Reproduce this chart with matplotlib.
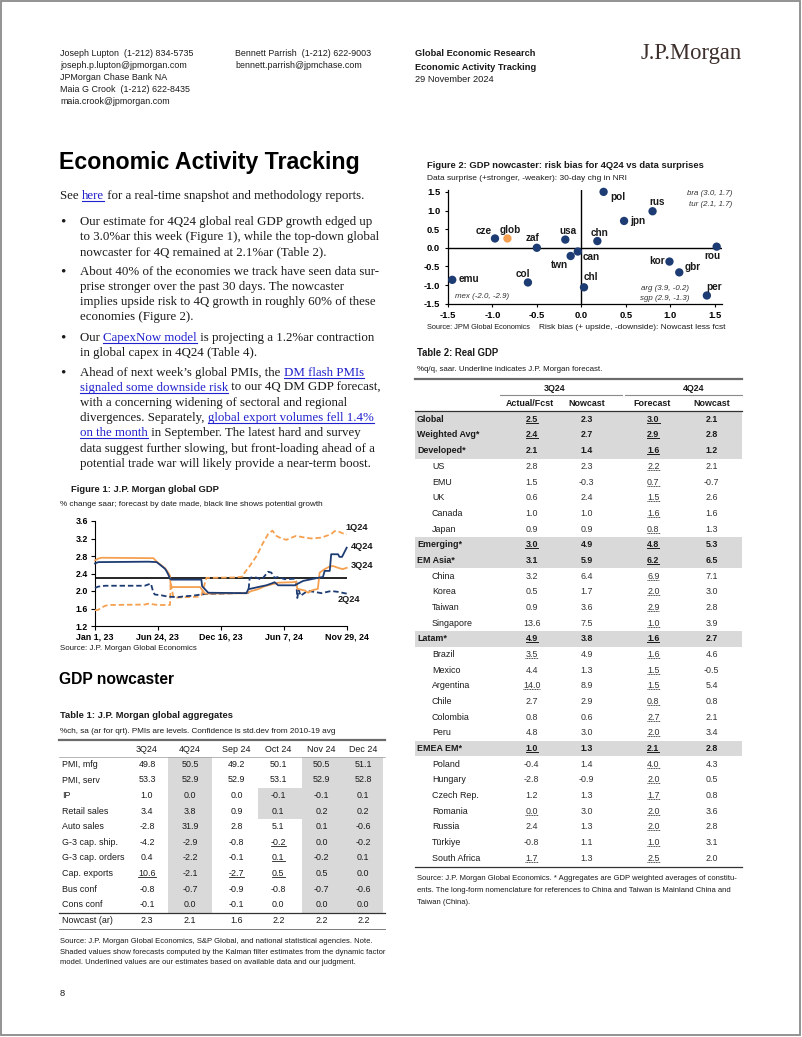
import matplotlib
matplotlib.use("Agg")
import matplotlib.pyplot as plt
import pandas as pd
from matplotlib import font_manager
from matplotlib.font_manager import FontProperties
from matplotlib.lines import Line2D
from matplotlib.patches import Rectangle

plt.rcParams["axes.unicode_minus"] = False

W, H = 802, 1037
NAVY = "#1d3c73"
ORANGE = "#f5a050"
LINK = "#2020cc"
SHADE = "#d9d9d9"
INK = "#1a1a1a"

# ---------------- data ----------------
CONTACTS_LEFT = ["Joseph Lupton  (1-212) 834-5735", "joseph.p.lupton@jpmorgan.com",
                 "JPMorgan Chase Bank NA", "Maia G Crook  (1-212) 622-8435",
                 "maia.crook@jpmorgan.com"]
CONTACTS_MID = ["Bennett Parrish  (1-212) 622-9003", "bennett.parrish@jpmchase.com"]

# Figure 1: global GDP forecasts by date made
Q1_DATES = ["2023-01-01", "2023-01-10", "2023-01-19", "2023-01-29", "2023-02-07", "2023-05-19",
            "2023-05-29", "2023-06-16", "2023-06-25", "2023-07-28", "2023-07-30", "2023-08-06",
            "2023-08-15", "2023-10-14", "2023-10-23", "2023-11-06", "2024-01-24", "2024-02-16",
            "2024-02-20", "2024-03-05", "2024-03-24", "2024-04-11", "2024-04-25", "2024-05-07",
            "2024-05-18", "2024-06-01", "2024-06-15", "2024-06-29", "2024-07-12", "2024-08-05",
            "2024-08-23", "2024-09-20", "2024-10-17", "2024-10-27", "2024-11-09", "2024-11-23",
            "2024-11-29"]
Q1_VALS = [1.56, 1.57, 1.62, 1.66, 1.68, 1.69, 1.71, 1.69, 1.68, 1.68, 2.19, 1.87,
           1.85, 1.87, 1.90, 2.30, 2.31, 2.33, 2.42, 2.57, 2.80, 3.10, 3.30, 3.38,
           3.26, 3.20, 3.17, 3.22, 3.26, 3.22, 3.20, 3.22, 3.30, 3.37, 3.35, 3.30, 3.29]

Q2_DATES = ["2023-01-01", "2023-01-10", "2023-01-29", "2023-05-19", "2023-05-29", "2023-06-05",
            "2023-06-12", "2023-06-16", "2023-07-05", "2023-07-23", "2023-08-20", "2023-09-07",
            "2023-09-26", "2023-10-14", "2023-11-02", "2024-01-24", "2024-03-01", "2024-03-05",
            "2024-03-19", "2024-04-07", "2024-04-25", "2024-05-04", "2024-05-13", "2024-05-23",
            "2024-06-10", "2024-07-08", "2024-07-12", "2024-07-15", "2024-07-19", "2024-07-24",
            "2024-08-05", "2024-08-14", "2024-09-01", "2024-09-20", "2024-10-17", "2024-11-05",
            "2024-11-29"]
Q2_VALS = [2.07, 2.10, 2.12, 2.12, 2.15, 2.17, 1.96, 1.92, 1.90, 1.87, 1.86, 1.88,
           1.89, 1.91, 1.93, 1.95, 1.96, 2.30, 2.32, 2.26, 2.44, 2.42, 2.30, 2.32,
           2.27, 2.28, 2.22, 1.84, 2.03, 1.89, 1.96, 2.00, 1.98, 1.95, 2.00, 1.98, 1.94]

Q3_DATES = ["2023-01-01", "2023-01-10", "2023-01-19", "2023-06-12", "2023-06-21", "2023-07-05",
            "2023-07-14", "2023-07-23", "2023-07-28", "2023-07-30", "2023-10-19", "2023-10-23",
            "2023-11-02", "2024-02-25", "2024-03-10", "2024-03-28", "2024-04-16", "2024-05-04",
            "2024-05-23", "2024-06-29", "2024-07-12", "2024-07-15", "2024-08-05", "2024-08-14",
            "2024-08-23", "2024-09-10", "2024-09-15", "2024-09-29", "2024-10-13", "2024-10-22",
            "2024-11-09", "2024-11-18", "2024-11-29"]
Q3_VALS = [2.70, 2.74, 2.76, 2.75, 2.67, 2.58, 2.52, 2.42, 2.35, 2.09, 2.09, 2.05,
           1.94, 1.95, 2.00, 2.04, 2.11, 2.15, 2.19, 2.20, 2.21, 2.05, 2.01, 1.96,
           2.01, 2.05, 2.42, 2.50, 2.56, 2.57, 2.52, 2.50, 2.53]

Q4_DATES = ["2023-01-01", "2023-01-10", "2023-05-29", "2023-06-21", "2023-07-05", "2023-07-14",
            "2023-07-18", "2023-07-23", "2023-07-28", "2023-08-01", "2023-10-23", "2023-10-25",
            "2023-11-02", "2023-11-11", "2024-02-25", "2024-03-01", "2024-03-28", "2024-04-20",
            "2024-05-04", "2024-05-13", "2024-05-23", "2024-07-08", "2024-07-31", "2024-08-23",
            "2024-09-10", "2024-09-24", "2024-09-29", "2024-10-13", "2024-10-17", "2024-11-05",
            "2024-11-09", "2024-11-16", "2024-11-29"]
Q4_VALS = [2.63, 2.66, 2.67, 2.66, 2.57, 2.51, 2.46, 2.38, 2.28, 2.26, 2.26, 2.11,
           2.04, 1.96, 1.95, 2.04, 2.09, 2.13, 2.17, 2.20, 2.13, 2.13, 2.23, 2.27,
           2.30, 2.32, 2.46, 2.46, 2.84, 2.84, 2.78, 2.78, 2.99]

POTENTIAL = 2.3
F1_TICKS = ["2023-01-01", "2023-06-24", "2023-12-16", "2024-06-07", "2024-11-29"]
F1_TICKLABELS = ["Jan 1, 23", "Jun 24, 23", "Dec 16, 23", "Jun 7, 24", "Nov 29, 24"]
F1_YTICKS = [1.2, 1.6, 2.0, 2.4, 2.8, 3.2, 3.6]

# Figure 2: risk bias vs data surprise
F2_CODES = ["pol", "rus", "jpn", "cze", "glob", "zaf", "usa", "chn", "can",
            "twn", "rou", "kor", "gbr", "emu", "col", "chl", "per"]
F2_RISK = [0.25, 0.80, 0.48, -0.97, -0.83, -0.50, -0.18, 0.18, -0.04,
           -0.12, 1.52, 0.99, 1.10, -1.45, -0.60, 0.03, 1.41]
F2_SURPRISE = [1.50, 0.98, 0.72, 0.25, 0.25, 0.00, 0.22, 0.18, -0.10,
               -0.22, 0.03, -0.37, -0.66, -0.86, -0.93, -1.06, -1.28]
F2_TICKS = [-1.5, -1.0, -0.5, 0.0, 0.5, 1.0, 1.5]

# Table 1
T1_COLS = ["3Q24", "4Q24", "Sep 24", "Oct 24", "Nov 24", "Dec 24"]
T1_ROWS = ["PMI, mfg", "PMI, serv", "IP", "Retail sales", "Auto sales", "G-3 cap. ship.",
           "G-3 cap. orders", "Cap. exports", "Bus conf", "Cons conf"]
T1_VALS = [[49.8, 50.5, 49.2, 50.1, 50.5, 51.1],
           [53.3, 52.9, 52.9, 53.1, 52.9, 52.8],
           [1.0, 0.0, 0.0, -0.1, -0.1, 0.1],
           [3.4, 3.8, 0.9, 0.1, 0.2, 0.2],
           [-2.8, 31.9, 2.8, 5.1, 0.1, -0.6],
           [-4.2, -2.9, -0.8, -0.2, 0.0, -0.2],
           [0.4, -2.2, -0.1, 0.1, -0.2, 0.1],
           [10.6, -2.1, -2.7, 0.5, 0.5, 0.0],
           [-0.8, -0.7, -0.9, -0.8, -0.7, -0.6],
           [-0.1, 0.0, -0.1, 0.0, 0.0, 0.0]]
T1_NOWCAST = [2.3, 2.1, 1.6, 2.2, 2.2, 2.2]
T1_SHADED_COLS = [1, 4, 5]                 # Kalman-filter forecasts
T1_SHADED_CELLS = [(2, 3), (3, 3)]
T1_UNDERLINED = [(5, 3), (6, 3), (7, 0), (7, 2), (7, 3)]

# Table 2
T2_ROWS = ["Global", "Weighted Avg*", "Developed*", "US", "EMU", "UK", "Canada", "Japan",
           "Emerging*", "EM Asia*", "China", "Korea", "Taiwan", "Singapore", "Latam*",
           "Brazil", "Mexico", "Argentina", "Chile", "Colombia", "Peru", "EMEA EM*",
           "Poland", "Hungary", "Czech Rep.", "Romania", "Russia", "Türkiye", "South Africa"]
T2_VALS = [[2.5, 2.3, 3.0, 2.1], [2.4, 2.7, 2.9, 2.8], [2.1, 1.4, 1.6, 1.2],
           [2.8, 2.3, 2.2, 2.1], [1.5, -0.3, 0.7, -0.7], [0.6, 2.4, 1.5, 2.6],
           [1.0, 1.0, 1.6, 1.6], [0.9, 0.9, 0.8, 1.3], [3.0, 4.9, 4.8, 5.3],
           [3.1, 5.9, 6.2, 6.5], [3.2, 6.4, 6.9, 7.1], [0.5, 1.7, 2.0, 3.0],
           [0.9, 3.6, 2.9, 2.8], [13.6, 7.5, 1.0, 3.9], [4.9, 3.8, 1.6, 2.7],
           [3.5, 4.9, 1.6, 4.6], [4.4, 1.3, 1.5, -0.5], [14.0, 8.9, 1.5, 5.4],
           [2.7, 2.9, 0.8, 0.8], [0.8, 0.6, 2.7, 2.1], [4.8, 3.0, 2.0, 3.4],
           [1.0, 1.3, 2.1, 2.8], [-0.4, 1.4, 4.0, 4.3], [-2.8, -0.9, 2.0, 0.5],
           [1.2, 1.3, 1.7, 0.8], [0.0, 3.0, 2.0, 3.6], [2.4, 1.3, 2.0, 2.8],
           [-0.8, 1.1, 1.0, 3.1], [1.7, 1.3, 2.5, 2.0]]
T2_AGGREGATES = ["Global", "Weighted Avg*", "Developed*", "Emerging*", "EM Asia*",
                 "Latam*", "EMEA EM*"]
T2_ACTUAL_UL = ["Global", "Weighted Avg*", "Emerging*", "Latam*", "Brazil", "Argentina",
                "EMEA EM*", "Romania", "South Africa"]
T2_GROUPS = ["3Q24", "4Q24"]
T2_SUBHEADS = ["Actual/Fcst", "Nowcast", "Forecast", "Nowcast"]


# ---------------- helpers ----------------
def _has(name):
    try:
        font_manager.findfont(FontProperties(family=name), fallback_to_default=False)
        return True
    except ValueError:
        return False


SANS = "Liberation Sans"
SERIF = "Liberation Serif"
NARROW = "Liberation Sans Narrow" if _has("Liberation Sans Narrow") else SANS
SHRINK = 1.0 if NARROW != SANS else 0.84
BODY = 9.3

fig = plt.figure(figsize=(W / 100, H / 100), dpi=100)
R = fig.canvas.get_renderer()


def put(x, y, s, size, bold=False, fam=None, ha="left", va="center", color=INK, italic=False):
    fam = fam or NARROW
    if fam == NARROW:
        size *= SHRINK
    return fig.text(x / W, 1 - y / H, s, fontsize=size, family=fam,
                    fontweight="bold" if bold else "normal",
                    style="italic" if italic else "normal",
                    ha=ha, va=va, color=color)


def hline(x0, x1, y, lw=0.8, color=INK, ls="-"):
    fig.add_artist(Line2D([x0 / W, x1 / W], [1 - y / H, 1 - y / H], lw=lw, color=color, ls=ls))


def rect(x0, y0, x1, y1, color=SHADE):
    fig.add_artist(Rectangle((x0 / W, 1 - y1 / H), (x1 - x0) / W, (y1 - y0) / H,
                             facecolor=color, lw=0, zorder=0))


def underline(t, ls="-", color=INK, lw=0.7):
    bb = t.get_window_extent(R)
    hline(bb.x0, bb.x1, H - (bb.y0 + 1.0), lw=lw, color=color, ls=ls)


def adv(s, fp):
    w1 = R.get_text_width_height_descent(s + "|", fp, ismath=False)[0]
    w2 = R.get_text_width_height_descent("|", fp, ismath=False)[0]
    return w1 - w2


def rich(x, y, parts, size=BODY):
    fp = FontProperties(family=SERIF, size=size)
    done = ""
    for s, link in parts:
        x0 = x + (adv(done, fp) if done else 0)
        fig.text(x0 / W, 1 - (y + 3.6) / H, s, fontproperties=fp,
                 color=LINK if link else INK, va="baseline")
        if link:
            w = R.get_text_width_height_descent(s, fp, ismath=False)[0]
            hline(x0, x0 + w, y + 5.5, lw=0.8, color=LINK)
        done += s


# ---------------- page frame & header ----------------
fig.add_artist(Rectangle((1 / W, 1 - 1035 / H), 799 / W, 1034 / H, fill=False,
                         edgecolor="#8a8a8a", lw=1.3))

for i, s in enumerate(CONTACTS_LEFT):
    put(60, [53, 65, 77, 90, 102][i], s, 7.6)
for i, s in enumerate(CONTACTS_MID):
    put(235, [53, 65][i], s, 7.6)
put(415, 53, "Global Economic Research", 7.9, bold=True)
put(415, 67, "Economic Activity Tracking", 7.9, bold=True)
put(415, 79, "29 November 2024", 7.9)
put(641, 54, "J.P.Morgan", 16.3, fam=SERIF, color="#3d2f2c")

# ---------------- left column text ----------------
put(59, 163, "Economic Activity Tracking", 19.8, bold=True, fam=SANS, color="black")
rich(60, 195, [("See ", 0), ("here", 1), (" for a real-time snapshot and methodology reports.", 0)])

bullets = [
    [221, [[("Our estimate for 4Q24 global real GDP growth edged up", 0)],
           [("to 3.0%ar this week (Figure 1), while the top-down global", 0)],
           [("nowcaster for 4Q remained at 2.1%ar (Table 2).", 0)]]],
    [271, [[("About 40% of the economies we track have seen data sur-", 0)],
           [("prise stronger over the past 30 days. The nowcaster", 0)],
           [("implies upside risk to 4Q growth in roughly 60% of these", 0)],
           [("economies (Figure 2).", 0)]]],
    [337, [[("Our ", 0), ("CapexNow model", 1), (" is projecting a 1.2%ar contraction", 0)],
           [("in global capex in 4Q24 (Table 4).", 0)]]],
    [372, [[("Ahead of next week\u2019s global PMIs, the ", 0), ("DM flash PMIs", 1)],
           [("signaled some downside risk", 1), (" to our 4Q DM GDP forecast,", 0)],
           [("with a concerning widening of sectoral and regional", 0)],
           [("divergences. Separately, ", 0), ("global export volumes fell 1.4%", 1)],
           [("on the month", 1), (" in September. The latest hard and survey", 0)],
           [("data suggest further slowing, but front-loading ahead of a", 0)],
           [("potential trade war will likely provide a near-term boost.", 0)]]],
]
for y0, lines in bullets:
    put(63, y0 + 0.5, "\u2022", 11, fam=SERIF, ha="center")
    for j, parts in enumerate(lines):
        rich(80, y0 + 15.2 * j, parts)

# ---------------- Figure 1 ----------------
put(71, 490, "Figure 1: J.P. Morgan global GDP", 8, bold=True)
put(60, 504, "% change saar; forecast by date made, black line shows potential growth", 7)

ax1 = fig.add_axes([95 / W, 1 - 626 / H, (346.7 - 95) / W, (626 - 521) / H])
series = [("1Q24", Q1_DATES, Q1_VALS, ORANGE, (0, (3, 1.6)), (-1, 7)),
          ("2Q24", Q2_DATES, Q2_VALS, NAVY, (0, (3, 1.6)), (-9, -6)),
          ("3Q24", Q3_DATES, Q3_VALS, ORANGE, "-", (4, 2)),
          ("4Q24", Q4_DATES, Q4_VALS, NAVY, "-", (4, 1))]
ax1.axhline(POTENTIAL, color="black", lw=1.2, zorder=2)
for name, d, v, c, ls, off in series:
    dd = pd.to_datetime(d)
    ax1.plot(dd, v, color=c, ls=ls, lw=1.3, zorder=3, clip_on=False)
    ax1.annotate(name, (dd[-1], v[-1]), xytext=off, textcoords="offset pixels",
                 ha="left", va="center", fontsize=7.8 * SHRINK, fontweight="bold",
                 family=NARROW, color=INK, annotation_clip=False)
ax1.set_xlim(pd.Timestamp(F1_TICKS[0]), pd.Timestamp(F1_TICKS[-1]))
ax1.set_ylim(F1_YTICKS[0], F1_YTICKS[-1])
ax1.set_xticks(pd.to_datetime(F1_TICKS))
ax1.set_xticklabels(F1_TICKLABELS)
ax1.set_yticks(F1_YTICKS)
ax1.set_yticklabels([f"{v:.1f}" for v in F1_YTICKS])
for sp in ["top", "right"]:
    ax1.spines[sp].set_visible(False)
for sp in ["left", "bottom"]:
    ax1.spines[sp].set_linewidth(0.8)
ax1.tick_params(direction="out", length=3, width=0.8, pad=2)
for lab in ax1.get_xticklabels() + ax1.get_yticklabels():
    lab.set_fontfamily(NARROW)
    lab.set_fontweight("bold")
    lab.set_fontsize(7.6 * SHRINK)
put(60, 649, "Source: J.P. Morgan Global Economics", 6.8)

# ---------------- GDP nowcaster / Table 1 ----------------
put(59, 680, "GDP nowcaster", 13.4, bold=True, fam=SANS, color="black")
put(60, 715, "Table 1: J.P. Morgan global aggregates", 8, bold=True)
put(60, 731.5, "%ch, sa (ar for qrt). PMIs are levels. Confidence is std.dev from 2010-19 avg", 7)

T1_X = [147, 190, 236.7, 278.3, 321.7, 363.3]
T1_EDGES = [125, 168.3, 211.7, 257.7, 301.7, 342.5, 383.3]
row_y = [764.3 + 15.6 * i for i in range(len(T1_ROWS))]
for c in T1_SHADED_COLS:
    rect(T1_EDGES[c], 756.5, T1_EDGES[c + 1], 912.5)
for r, c in T1_SHADED_CELLS:
    rect(T1_EDGES[c], row_y[r] - 7.8, T1_EDGES[c + 1], row_y[r] + 7.8)

hline(59, 385, 740, lw=1.6, color="#6b6b6b")
for x, s in zip(T1_X, T1_COLS):
    put(x, 749.3, s, 7.6, ha="center")
hline(59, 385, 756.5, lw=0.5, color="#9a9a9a")
for i, name in enumerate(T1_ROWS):
    put(61.7, row_y[i], name, 7.6)
    for j, v in enumerate(T1_VALS[i]):
        t = put(T1_X[j], row_y[i], f"{v:.1f}", 7.6, ha="center")
        if (i, j) in T1_UNDERLINED:
            underline(t, lw=0.6)
hline(59, 385, 912.5, lw=0.9, color="#333333")
put(61.7, 920.7, "Nowcast (ar)", 7.6)
for j, v in enumerate(T1_NOWCAST):
    put(T1_X[j], 920.7, f"{v:.1f}", 7.6, ha="center")
hline(59, 385, 929, lw=0.7, color="#7a7a7a")

t1_note = ["Source: J.P. Morgan Global Economics, S&P Global, and national statistical agencies. Note.",
           "Shaded values show forecasts computed by the Kalman filter estimates from the dynamic factor",
           "model. Underlined values are our estimates based on available data and our judgment."]
for i, s in enumerate(t1_note):
    put(60, 941.7 + 10.3 * i, s, 6.5)
put(60, 993, "8", 8)

# ---------------- Figure 2 ----------------
put(427, 165, "Figure 2: GDP nowcaster: risk bias for 4Q24 vs data surprises", 8, bold=True)
put(427, 178, "Data surprise (+stronger, -weaker): 30-day chg in NRI", 7.2)

ax2 = fig.add_axes([447.8 / W, 1 - 303.7 / H, (722 - 447.8) / W, (303.7 - 190) / H])
ax2.set_xlim(-1.5, 1.58)
ax2.set_ylim(-1.5, 1.55)
ax2.axhline(0, color="black", lw=1.0, zorder=1)
ax2.axvline(0, color="black", lw=1.0, zorder=1)
ax2.scatter(F2_RISK, F2_SURPRISE, s=36, linewidths=0, zorder=3, clip_on=False,
            c=[ORANGE if c == "glob" else NAVY for c in F2_CODES])
LABEL_POS = {"pol": (7, -5, "left"), "rus": (5, 9, "center"), "jpn": (6, 0, "left"),
             "cze": (-3, 7, "right"), "glob": (3, 8, "center"), "zaf": (-4, 10, "center"),
             "usa": (3, 9, "center"), "chn": (2, 8, "center"), "can": (5, -5, "left"),
             "twn": (-3, -9, "right"), "rou": (-4, -9, "center"), "kor": (-5, 1, "right"),
             "gbr": (5, 5, "left"), "emu": (6, 1, "left"), "col": (-5, 8, "center"),
             "chl": (7, 10, "center"), "per": (7, 8, "center")}
for code, xv, yv in zip(F2_CODES, F2_RISK, F2_SURPRISE):
    dx, dy, ha = LABEL_POS[code]
    ax2.annotate(code, (xv, yv), xytext=(dx, dy), textcoords="offset pixels", ha=ha,
                 va="center", fontsize=8.6 * SHRINK, fontweight="bold", family=NARROW,
                 color=INK, annotation_clip=False)
ax2.set_xticks(F2_TICKS)
ax2.set_yticks(F2_TICKS)
ax2.set_xticklabels([f"{v:.1f}" for v in F2_TICKS])
ax2.set_yticklabels([f"{v:.1f}" for v in F2_TICKS])
for sp in ["top", "right"]:
    ax2.spines[sp].set_visible(False)
for sp in ["left", "bottom"]:
    ax2.spines[sp].set_linewidth(0.9)
ax2.tick_params(direction="out", length=2.5, width=0.8, pad=3)
for lab in ax2.get_xticklabels() + ax2.get_yticklabels():
    lab.set_fontfamily(NARROW)
    lab.set_fontweight("bold")
    lab.set_fontsize(8 * SHRINK)

put(732, 193.7, "bra (3.0, 1.7)", 6.7, ha="right", italic=True, color="#333333")
put(732, 204, "tur (2.1, 1.7)", 6.7, ha="right", italic=True, color="#333333")
put(455, 296.7, "mex (-2.0, -2.9)", 6.7, italic=True, color="#333333")
put(689, 288, "arg (3.9, -0.2)", 6.7, ha="right", italic=True, color="#333333")
put(689, 298, "sgp (2.9, -1.3)", 6.7, ha="right", italic=True, color="#333333")
put(427, 327, "Source: JPM Global Economics", 6.3)
put(539, 327, "Risk bias (+ upside, -downside): Nowcast less fcst", 7.2)

# ---------------- Table 2 ----------------
put(417, 353.3, "Table 2: Real GDP", 8.2, bold=True)
put(417, 369.3, "%q/q, saar. Underline indicates J.P. Morgan forecast.", 6.8)

T2_X = [531.7, 586.7, 653.3, 711.7]
t2_y = [419.3 + 15.68 * i for i in range(len(T2_ROWS))]
for i, name in enumerate(T2_ROWS):
    if name in T2_AGGREGATES:
        rect(415, t2_y[i] - 7.84, 742, t2_y[i] + 7.84)

hline(415, 742, 379.3, lw=1.6, color="#6b6b6b")
put(555, 388.3, T2_GROUPS[0], 7.6, bold=True, ha="center")
put(693.3, 388.3, T2_GROUPS[1], 7.6, bold=True, ha="center")
hline(500, 622, 394.5, lw=0.8, color="#8a8a8a")
hline(625, 742, 394.5, lw=0.8, color="#8a8a8a")
for x, s in zip([530, 586.7, 651.7, 711.7], T2_SUBHEADS):
    put(x, 403.3, s, 7.6, bold=True, ha="center")
hline(415, 742, 411, lw=0.9, color="#333333")

for i, name in enumerate(T2_ROWS):
    agg = name in T2_AGGREGATES
    put(417 if agg else 432, t2_y[i], name, 7.6, bold=agg)
    for j, v in enumerate(T2_VALS[i]):
        t = put(T2_X[j], t2_y[i], f"{v:.1f}", 7.6, bold=agg, ha="center",
                color=INK if agg else "#333333")
        if j == 2 or (j == 0 and name in T2_ACTUAL_UL):
            underline(t, ls="-" if agg else (0, (1.2, 0.8)), lw=0.7 if agg else 0.6)
hline(415, 742, 866.7, lw=0.9, color="#333333")

t2_note = ["Source: J.P. Morgan Global Economics. * Aggregates are GDP weighted averages of constitu-",
           "ents. The long-form nomenclature for references to China and Taiwan is Mainland China and",
           "Taiwan (China)."]
for i, s in enumerate(t2_note):
    put(417, 879 + 11.7 * i, s, 6.5)

fig.savefig("out.png", dpi=100)
